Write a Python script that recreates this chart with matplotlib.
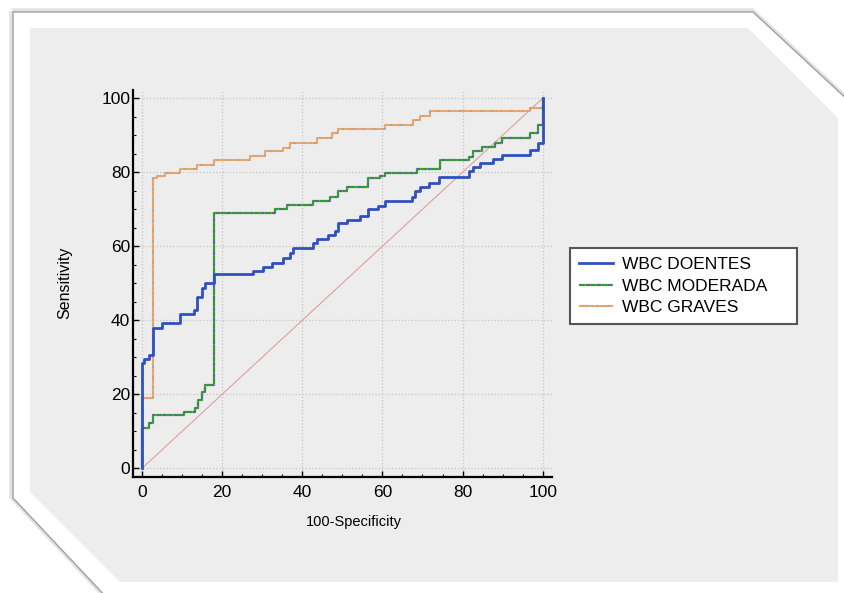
import matplotlib.pyplot as plt
from matplotlib.patches import Polygon

plt.rcParams['font.family'] = ['Liberation Sans', 'DejaVu Sans']

# ROC data (x = 100-Specificity where the curve steps up, y = new Sensitivity level)
doentes_x = [0, 0, 0.6, 1.7, 2.9, 5.0, 9.6, 12.9, 13.7, 15.0, 15.8, 17.9, 27.8, 30.3, 32.4,
             35.3, 37.0, 37.8, 42.8, 43.6, 46.5, 48.2, 49.0, 51.1, 54.4, 56.5, 59.0, 60.7,
             67.3, 68.2, 69.4, 71.5, 74.0, 81.5, 82.7, 84.4, 87.7, 89.8, 96.8, 98.9, 100, 100]
doentes_y = [0, 28.4, 29.5, 30.6, 37.8, 39.2, 41.7, 42.8, 46.2, 48.6, 50.0, 52.4, 53.4, 54.5, 55.6,
             56.8, 58.1, 59.5, 60.8, 61.9, 63.1, 64.2, 66.2, 67.1, 68.2, 70.0, 70.9, 72.3,
             73.4, 74.8, 75.9, 77.2, 78.8, 80.2, 81.4, 82.4, 83.5, 84.7, 86.0, 88.0, 90.0, 100]

moderada_x = [0, 0, 1.7, 2.9, 10.4, 13.3, 14.1, 15.0, 15.8, 17.9, 33.3, 36.2, 42.8, 47.0, 49.0,
              51.1, 56.5, 59.4, 60.7, 68.6, 74.4, 81.5, 82.7, 84.8, 88.1, 89.8, 96.8, 98.9, 100]
moderada_y = [0, 10.8, 12.2, 14.4, 15.3, 16.2, 18.5, 20.7, 22.5, 68.9, 70.0, 71.2, 72.3, 73.4, 74.8,
              75.9, 78.4, 79.0, 79.9, 80.8, 83.2, 84.2, 85.6, 86.9, 87.8, 89.2, 90.5, 92.8, 100]

graves_x = [0, 0, 2.9, 3.7, 5.8, 9.6, 13.7, 17.9, 27.0, 30.8, 35.3, 37.0, 43.6, 47.4, 49.0,
            60.7, 67.7, 69.4, 71.9, 96.8, 100]
graves_y = [0, 19.0, 78.5, 79.0, 79.8, 81.0, 82.0, 83.3, 84.3, 85.6, 86.6, 88.0, 89.2, 90.5, 91.6,
            92.8, 94.0, 95.2, 96.4, 97.3, 100]

labels = ['WBC DOENTES', 'WBC MODERADA', 'WBC GRAVES']
ticks = [0, 20, 40, 60, 80, 100]

fig = plt.figure(figsize=(8.45, 5.93), dpi=100)
fig.patch.set_facecolor('white')

# the framed panel behind the chart (pixel coordinates)
bg = fig.add_axes([0, 0, 1, 1], zorder=0)
bg.set_xlim(0, 845)
bg.set_ylim(593, 0)
bg.axis('off')
frame = [(13, 12), (753, 12), (850, 102), (850, 600), (109, 600), (13, 498)]
bg.add_patch(Polygon([(x - 1, y - 1) for x, y in frame], closed=True, facecolor='none',
                     edgecolor='#e2e2e2', linewidth=4))
bg.add_patch(Polygon(frame, closed=True, facecolor='white', edgecolor='#a0a0a0', linewidth=1))
panel = [(30, 28), (748, 28), (838, 118), (838, 582), (120, 582), (30, 492)]
bg.add_patch(Polygon(panel, closed=True, facecolor='#ededed', edgecolor='none'))

ax = fig.add_axes([133 / 845, 1 - 477 / 593, 419 / 845, 387 / 593], zorder=1)
ax.set_facecolor('none')

ax.plot([0, 100], [0, 100], color='#dca0a0', linewidth=0.8)
ax.plot(graves_x, graves_y, drawstyle='steps-post', color='#f5a060', linewidth=1.5,
        linestyle=(0, (3, 2)), gapcolor='#b8a888', label=labels[2])
ax.plot(moderada_x, moderada_y, drawstyle='steps-post', color='#2aa02a', linewidth=1.6,
        linestyle=(0, (3, 2)), gapcolor='#5a6a80', label=labels[1])
ax.plot(doentes_x, doentes_y, drawstyle='steps-post', color='#3050c0', linewidth=2,
        label=labels[0])

ax.set_xlim(-2.2, 102.3)
ax.set_ylim(-2.3, 102.2)
ax.set_xticks(ticks)
ax.set_yticks(ticks)
ax.set_xticks(range(0, 101, 5), minor=True)
ax.set_yticks(range(0, 101, 5), minor=True)
ax.grid(True, which='major', linestyle=':', color='#c4c4c4', linewidth=0.9)

for side in ['top', 'right']:
    ax.spines[side].set_visible(False)
for side in ['left', 'bottom']:
    ax.spines[side].set_linewidth(1.6)
ax.tick_params(which='major', direction='in', length=4, width=1, labelsize=12.5)
ax.tick_params(axis='x', which='major', pad=6)
ax.tick_params(axis='y', which='major', pad=2)
ax.tick_params(which='minor', direction='in', length=2.5, width=0.8)

fig.text(65 / 845, 1 - 283 / 593, 'Sensitivity', rotation=90, ha='center', va='center', fontsize=11.5)
fig.text(354 / 845, 1 - 522 / 593, '100-Specificity', ha='center', va='center', fontsize=10.5)

handles, names = ax.get_legend_handles_labels()
order = [names.index(n) for n in labels]
leg = ax.legend([handles[i] for i in order], [names[i] for i in order],
                loc='upper left', bbox_to_anchor=(570 / 845, 1 - 324 / 593, 227 / 845, 76 / 593),
                bbox_transform=fig.transFigure, mode='expand', borderaxespad=0,
                fontsize=12.5, handlelength=2.0, handletextpad=0.5, labelspacing=0.38,
                borderpad=0.5, fancybox=False, framealpha=1)
leg.get_frame().set_edgecolor('#555555')
leg.get_frame().set_linewidth(1.5)

fig.savefig('out.png', dpi=100)
